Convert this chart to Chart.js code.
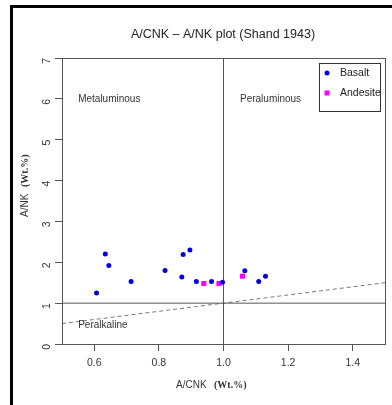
<!DOCTYPE html>
<html lang="en">
<head>
<meta charset="UTF-8">
<title>A/CNK - A/NK plot (Shand 1943)</title>
<script src="https://cdn.jsdelivr.net/npm/chart.js"></script>
<style>
  html, body { margin: 0; padding: 0; background: #fff; }
  #wrap { position: relative; width: 392px; height: 405px; }
</style>
</head>
<body>
<div id="wrap"><canvas id="shandChart" width="392" height="405"></canvas></div>
<script>
// samples (A/CNK, A/NK)
var basaltX = [0.607, 0.634, 0.645, 0.714, 0.819, 0.871, 0.875, 0.896, 0.916, 0.963, 0.997, 1.066, 1.109, 1.130];
var basaltY = [1.25, 2.20, 1.92, 1.53, 1.80, 1.64, 2.19, 2.30, 1.53, 1.53, 1.51, 1.79, 1.53, 1.66];
var andesiteX = [0.939, 0.986, 1.059];
var andesiteY = [1.48, 1.48, 1.66];

// Shand boundaries
var vLineX = [1, 1], vLineY = [0, 7];
var hLineX = [0.5, 1.5], hLineY = [1, 1];
var dashX = [0.5, 1.5], dashY = [0.5, 1.5];

var xTicks = [0.6, 0.8, 1.0, 1.2, 1.4];
var yTicks = [0, 1, 2, 3, 4, 5, 6, 7];

var regionLabels = [
  { text: 'Metaluminous', x: 0.55, y: 6.0 },
  { text: 'Peraluminous', x: 1.051, y: 6.0 },
  { text: 'Peralkaline', x: 0.55, y: 0.47 }
];

function pts(xs, ys) {
  var out = [];
  for (var i = 0; i < xs.length; i++) out.push({ x: xs[i], y: ys[i] });
  return out;
}

var sans = '"Liberation Sans", Arial, sans-serif';
var serif = '"Liberation Serif", "Times New Roman", serif';

var extras = {
  id: 'extras',
  beforeDraw: function (chart) {
    var c = chart.ctx;
    c.save();
    c.fillStyle = '#000';
    c.fillRect(10, 5, 382, 3);
    c.fillRect(10, 5, 3, 400);
    c.restore();
  },
  afterDraw: function (chart) {
    var c = chart.ctx, a = chart.chartArea;
    var sx = chart.scales.x, sy = chart.scales.y;
    c.save();
    // plot box
    c.strokeStyle = '#555';
    c.lineWidth = 1;
    c.strokeRect(Math.round(a.left) + 0.5, Math.round(a.top) + 0.5, Math.round(a.right - a.left), Math.round(a.bottom - a.top));

    // title
    c.fillStyle = '#222';
    c.font = '12.5px ' + sans;
    c.textAlign = 'center';
    c.textBaseline = 'middle';
    c.fillText('A/CNK \u2013 A/NK plot (Shand 1943)', 223, 35);

    // region labels
    c.font = '10px ' + sans;
    c.fillStyle = '#333';
    c.textAlign = 'left';
    regionLabels.forEach(function (r) {
      c.fillText(r.text, sx.getPixelForValue(r.x), sy.getPixelForValue(r.y));
    });

    // x axis title
    c.textBaseline = 'middle';
    c.font = '10px ' + sans;
    c.fillText('A/CNK', 176, 385);
    c.font = 'bold 10px ' + serif;
    c.fillText('(Wt.%)', 214, 385);

    // y axis title
    c.translate(25, 217);
    c.rotate(-Math.PI / 2);
    c.font = '10px ' + sans;
    c.fillText('A/NK', 0, 0);
    c.font = 'bold 10px ' + serif;
    c.fillText('(Wt.%)', 30, 0);
    c.restore();

    // legend
    c.save();
    c.strokeStyle = '#333';
    c.lineWidth = 1;
    c.strokeRect(319.5, 63.5, 61, 48);
    c.fillStyle = '#0000dd';
    c.beginPath();
    c.arc(327, 73, 2.5, 0, Math.PI * 2);
    c.fill();
    c.fillStyle = '#ff00ff';
    c.fillRect(324.5, 90.5, 5, 5);
    c.fillStyle = '#222';
    c.font = '10.5px ' + sans;
    c.textAlign = 'left';
    c.textBaseline = 'middle';
    c.fillText('Basalt', 340, 73);
    c.fillText('Andesite', 340, 93);
    c.restore();
  }
};

var ctx = document.getElementById('shandChart').getContext('2d');
new Chart(ctx, {
  type: 'scatter',
  data: {
    datasets: [
      {
        label: 'Basalt',
        data: pts(basaltX, basaltY),
        pointStyle: 'circle',
        pointRadius: 2.5,
        backgroundColor: '#0000dd',
        borderWidth: 0
      },
      {
        label: 'Andesite',
        data: pts(andesiteX, andesiteY),
        pointStyle: 'rect',
        pointRadius: 3.6,
        backgroundColor: '#ff00ff',
        borderWidth: 0
      },
      {
        label: 'vline',
        data: pts(vLineX, vLineY),
        showLine: true,
        pointRadius: 0,
        borderColor: '#555',
        borderWidth: 1
      },
      {
        label: 'hline',
        data: pts(hLineX, hLineY),
        showLine: true,
        pointRadius: 0,
        borderColor: '#555',
        borderWidth: 1
      },
      {
        label: 'peralkaline',
        data: pts(dashX, dashY),
        showLine: true,
        pointRadius: 0,
        borderColor: '#777',
        borderWidth: 1,
        borderDash: [4, 3]
      }
    ]
  },
  options: {
    responsive: false,
    animation: false,
    layout: { padding: { top: 58, right: 7, left: 0, bottom: 0 } },
    plugins: {
      legend: { display: false },
      title: { display: false },
      tooltip: { enabled: false }
    },
    scales: {
      x: {
        type: 'linear',
        min: 0.5,
        max: 1.5,
        afterBuildTicks: function (s) { s.ticks = xTicks.map(function (v) { return { value: v }; }); },
        afterFit: function (s) { s.height = 61; },
        border: { display: false },
        grid: { drawOnChartArea: false, drawTicks: true, tickLength: 7, color: '#555' },
        ticks: {
          color: '#333',
          font: { family: sans, size: 10.5 },
          padding: 6,
          maxRotation: 0,
          callback: function (v) { return Number(v).toFixed(1); }
        }
      },
      y: {
        type: 'linear',
        min: 0,
        max: 7,
        afterBuildTicks: function (s) { s.ticks = yTicks.map(function (v) { return { value: v }; }); },
        afterFit: function (s) { s.width = 62; },
        border: { display: false },
        grid: { drawOnChartArea: false, drawTicks: true, tickLength: 7, color: '#555' },
        ticks: {
          color: '#333',
          font: { family: sans, size: 10.5 },
          padding: 8,
          minRotation: 90,
          maxRotation: 90
        }
      }
    }
  },
  plugins: [extras]
});
</script>
</body>
</html>
